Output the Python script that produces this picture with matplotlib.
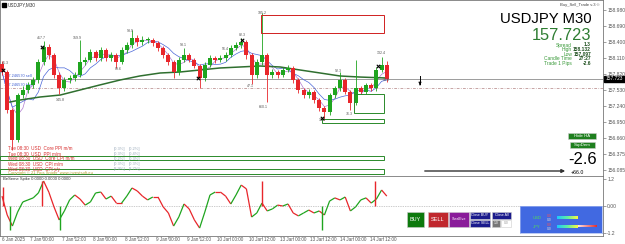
import numpy as np
import pandas as pd
import matplotlib
matplotlib.use("Agg")
import matplotlib.pyplot as plt
from matplotlib.patches import Rectangle
from matplotlib.collections import LineCollection
from matplotlib.colors import LinearSegmentedColormap

plt.rcParams['font.family'] = ['Liberation Sans', 'DejaVu Sans']

W, H = 625, 244

# USDJPY M30, one candle per 2 hours, 6 Jan -> 14 Jan 2025
first_open = 158.000
closes = [157.856, 157.168, 156.624, 157.439, 157.530, 157.621, 157.711, 158.038, 158.309, 158.164,
          157.802, 157.566, 157.711, 157.748, 157.802, 158.038, 158.074, 158.219, 158.110, 158.255,
          158.110, 158.164, 158.038, 158.255, 158.346, 158.473, 158.400, 158.436, 158.436, 158.382,
          158.291, 158.164, 158.038, 157.856, 158.074, 158.164, 158.074, 157.965, 157.748, 157.983,
          158.110, 158.074, 158.110, 158.164, 158.291, 158.346, 158.400, 158.164, 157.802, 158.038,
          158.164, 157.802, 157.856, 157.802, 157.893, 157.929, 157.711, 157.530, 157.439, 157.494,
          157.349, 157.205, 157.131, 157.439, 157.566, 157.711, 157.494, 157.294, 157.566, 157.494,
          157.621, 157.566, 157.893, 157.983, 157.723]
highs = [158.06, 157.90, 157.20, 157.48, 157.60, 157.68, 157.77, 158.10, 158.42, 158.36,
         158.20, 157.85, 157.77, 157.80, 157.86, 158.44, 158.13, 158.27, 158.25, 158.31,
         158.29, 158.22, 158.20, 158.31, 158.40, 158.62, 158.52, 158.50, 158.49, 158.47,
         158.42, 158.33, 158.20, 158.07, 158.12, 158.30, 158.20, 158.11, 158.00, 158.04,
         158.16, 158.15, 158.16, 158.22, 158.34, 158.40, 158.47, 158.43, 158.20, 158.09,
         158.92, 158.20, 157.91, 157.90, 157.94, 157.98, 157.96, 157.75, 157.57, 157.54,
         157.53, 157.39, 157.24, 157.47, 157.61, 157.85, 157.75, 157.53, 158.07, 157.60,
         157.66, 157.66, 157.95, 158.13, 158.05]
lows = [157.80, 157.12, 156.45, 156.58, 157.39, 157.48, 157.57, 157.66, 157.99, 158.10,
        157.75, 157.46, 157.52, 157.66, 157.70, 157.76, 157.99, 158.03, 158.06, 158.06,
        158.06, 158.06, 157.92, 158.00, 158.20, 158.30, 158.33, 158.35, 158.38, 158.33,
        158.24, 158.11, 157.99, 157.75, 157.81, 158.03, 158.03, 157.92, 157.56, 157.70,
        157.94, 158.02, 158.03, 158.06, 158.12, 158.25, 158.30, 158.10, 157.63, 157.75,
        157.99, 157.31, 157.75, 157.75, 157.76, 157.85, 157.66, 157.48, 157.39, 157.39,
        157.30, 157.15, 156.98, 157.08, 157.39, 157.52, 157.45, 157.17, 157.25, 157.45,
        157.45, 157.52, 157.52, 157.85, 157.68]

# slow moving average
ma_slow_idx = [1.5, 3.5, 7.3, 11.2, 15.0, 18.8, 22.7, 26.5, 30.4, 34.2, 38.1, 41.9, 45.8, 49.6,
               53.5, 57.3, 61.2, 65.0, 68.8, 73.7]
ma_slow = [157.312, 157.349, 157.403, 157.439, 157.530, 157.621, 157.711, 157.784, 157.838, 157.856,
           157.893, 157.929, 157.947, 157.965, 157.947, 157.893, 157.838, 157.784, 157.765, 157.748]

# BeSeme Spike oscillator
osc = [0.44, -0.40, -0.89, -0.27, 0.18, 0.27, 0.36, 0.58, 1.11, 0.62,
       -0.04, -0.62, -0.22, 0.27, 0.49, 0.31, 0.04, 0.18, 0.58, 0.62,
       0.31, 0.44, 0.13, 0.13, 0.44, 0.80, 0.67, 0.44, 0.27, 0.40,
       0.40, -0.04, -0.31, -0.89, -0.49, 0.09, -0.13, -0.62, -0.98, -0.27,
       0.49, 0.62, 0.62, 0.44, 0.09, 0.49, 0.93, 0.76, -0.49, -0.31,
       0.13, -0.22, -0.13, 0.04, 0.00, 0.09, -0.31, -0.44, -0.31, -0.18,
       -0.31, -0.22, -0.40, 0.22, 0.36, 0.27, 0.40, -0.22, -0.04, 0.27,
       0.36, 0.13, 0.31, 0.71, 0.44]
spike_up_idx = [0.1, 7.7, 50.0, 71.8]
spike_up = [0.84, 1.11, 1.11, 1.11]
spike_dn_idx = [1.5, 11.2, 61.5]
spike_dn = [-1.07, -1.07, -1.07]

price_ticks = [158.980, 158.690, 158.400, 158.110, 157.820, 157.530, 157.240, 156.950, 156.660, 156.375, 156.085]
time_labels = ['6 Jan 2025', '7 Jan 00:00', '7 Jan 12:00', '8 Jan 00:00', '8 Jan 12:00', '9 Jan 00:00',
               '9 Jan 12:00', '10 Jan 00:00', '10 Jan 12:00', '13 Jan 00:00', '13 Jan 12:00',
               '14 Jan 00:00', '14 Jan 12:00']
time_pos = [1.5, 7.7, 13.85, 19.8, 26.0, 31.9, 37.9, 43.85, 50.0, 56.0, 61.7, 67.5, 73.3]

swing_idx = [0.6, 7.5, 14.4, 11.2, 22.3, 24.6, 34.8, 42.9, 46.3, 47.7, 50.0, 50.2, 64.6, 66.7, 61.5, 72.9, 74.0]
swing_px = [158.019, 158.472, 158.472, 157.349, 157.911, 158.599, 158.346, 158.273, 158.527, 157.602,
            158.926, 157.222, 157.874, 157.095, 156.986, 158.200, 157.711]
swing_txt = ['41.3', '417.7', '159.9', '145.8', '89.6', '93.9', '93.1', '56.4', '82.3', '47.1',
             '185.2', '660.1', '92.3', '76.3', '12.8', '132.4', '38.8']
mark_idx = [0.2, 7.7, 37.7, 46.2, 61.5, 72.3]
mark_px = [157.893, 158.309, 157.748, 158.436, 157.02, 157.965]

last_price = 157.723
sell_level = 157.566

news = ['Tue 08:30  USD  Core PPI m/m', 'Tue 08:30  USD  PPI m/m', 'Wed 08:30  USD  Core CPI m/m',
        'Wed 08:30  USD  CPI m/m', 'Wed 08:30  USD  CPI y/y']
news_fc = ['0.3%', '0.3%', '0.2%', '0.3%', '2.9%']
news_prev = ['0.2%', '0.4%', '0.3%', '0.3%', '2.7%']

GREEN = '#1fa51f'
RED = '#e8262b'


def fx(px):
    return px / W


def fy(py):
    return 1 - py / H


def idx_x(px):
    return (px - 2) / 5.2


fig = plt.figure(figsize=(W / 100, H / 100), dpi=100)
fig.patch.set_facecolor('white')

ax = fig.add_axes([0, fy(176), fx(603), 176 / H])
ax2 = fig.add_axes([0, fy(236), fx(603), 60 / H])

xlo, xhi = idx_x(0), idx_x(603)
for a in (ax, ax2):
    a.set_xlim(xlo, xhi)
    a.set_facecolor('white')
    for s in a.spines.values():
        s.set_color('#777777')
        s.set_linewidth(0.6)
    a.tick_params(axis='x', length=0, labelbottom=False)
    a.yaxis.tick_right()
    a.tick_params(axis='y', length=2, width=0.5, colors='#777777', labelsize=3.6, pad=1)
ax.set_ylim(159.16125 - 0.018125 * 176, 159.16125)
ax.set_yticks(price_ticks)
ax.set_yticklabels([f'{p:.3f}' for p in price_ticks], color='#555555')

# candles
n = len(closes)
xs = np.arange(n)
opens = [first_open] + closes[:-1]
cols = [GREEN if c >= o else RED for o, c in zip(opens, closes)]
ax.vlines(xs, lows, highs, colors=cols, lw=0.6, zorder=3)
bottoms = [min(o, c) for o, c in zip(opens, closes)]
heights = [max(abs(c - o), 0.01) for o, c in zip(opens, closes)]
ax.bar(xs, heights, bottom=bottoms, width=0.75, color=cols, lw=0, zorder=4)

# moving averages
cs = pd.Series(closes)
ax.plot(xs, cs.rolling(3, min_periods=1).mean(), color='#b07ad0', lw=0.5, zorder=2)
ax.plot(xs, cs.rolling(6, min_periods=1).mean(), color='#4a66d8', lw=0.5, zorder=2)
ax.plot(ma_slow_idx, ma_slow, color='#2f6f2f', lw=1.1, zorder=2)

# levels
ax.axhline(last_price, color='#8c8c8c', lw=0.6, zorder=1)
ax.axhline(sell_level, color='#b08080', lw=0.5, ls=(0, (4, 2, 1, 2)), zorder=1)
ax.text(idx_x(4), last_price + 0.02, '157.246570 sell', fontsize=2.8, color='#3b5bd0', va='bottom')
ax.text(idx_x(4), sell_level + 0.02, '157.246570 buy', fontsize=2.8, color='#3b5bd0', va='bottom')

# zones
ax.add_patch(Rectangle((idx_x(261), 158.563), idx_x(384) - idx_x(261), 158.890 - 158.563,
                       fill=False, ec='#d02020', lw=0.7, zorder=5))
ax.add_patch(Rectangle((idx_x(354), 157.113), idx_x(384) - idx_x(354), 157.457 - 157.113,
                       fill=False, ec='#2a8a2a', lw=0.7, zorder=5))
ax.add_patch(Rectangle((idx_x(322), 156.932), idx_x(384) - idx_x(322), 157.004 - 156.932,
                       fill=False, ec='#2a8a2a', lw=0.7, zorder=5))
for lo, hi in [(156.261, 156.334), (156.007, 156.098)]:
    ax.add_patch(Rectangle((xlo, lo), idx_x(384) - xlo, hi - lo,
                           fill=False, ec='#2a8a2a', lw=0.7, zorder=5))

# swing labels and markers
for i, p, t in zip(swing_idx, swing_px, swing_txt):
    ax.text(i, p, t, fontsize=2.6, color='#555555', ha='center', va='center', zorder=6)
ax.scatter(mark_idx, mark_px, marker='x', s=6, color='black', lw=0.8, zorder=7)

# oscillator
ax2.set_ylim(-1.333, 1.333)
ax2.set_yticks([1.2, 0.0, -1.2])
ax2.set_yticklabels(['1.2', '0.00', '-1.2'], color='#555555')
ax2.axhline(0, color='#999999', lw=0.5, ls=(0, (1, 1.5)))
pts = np.column_stack([xs, osc])
segs = np.stack([pts[:-1], pts[1:]], axis=1)
seg_cols = [GREEN if b > a else RED for a, b in zip(osc[:-1], osc[1:])]
ax2.add_collection(LineCollection(segs, colors=seg_cols, lw=0.9))
ax2.vlines(spike_up_idx, 0, spike_up, colors=RED, lw=1.0)
ax2.vlines(spike_dn_idx, spike_dn, 0, colors=GREEN, lw=1.0)
ax2.text(idx_x(3), 1.2, 'BeSeme Spike 0.0000 0.0000 0.0000', fontsize=3, color='#333333', va='center')

for k, (p, t) in enumerate(zip(time_pos, time_labels)):
    if k == 0:
        ax2.text(idx_x(2), -1.36, t, fontsize=3.3, color='#555555', ha='left', va='top', clip_on=False)
    else:
        ax2.text(p, -1.36, t, fontsize=3.3, color='#555555', ha='center', va='top', clip_on=False)
for p in time_pos[1:]:
    ax2.plot([p, p], [-1.333, -1.42], color='#777777', lw=0.4, clip_on=False)

# header texts
fig.patches.append(Rectangle((fx(2), fy(7)), fx(4), 4 / H, color='black', transform=fig.transFigure))
fig.text(fx(8), fy(5), 'USDJPY,M30', fontsize=3.3, color='#333333', va='center')
fig.text(fx(600), fy(5), 'Buy_Sell_Trade v.3 \u00a9', fontsize=3, color='#444444', va='center', ha='right')
fig.text(fx(592), fy(19), 'USDJPY M30', fontsize=10.7, color='black', ha='right', va='center')
fig.text(fx(591), fy(36), '157.723', fontsize=11.8, color='#2e7d32', ha='right', va='center')
info_lab = ['Spread', 'High', 'Low', 'Candle Time', 'Trade 1 Pips']
info_val = ['1.3', '158.132', '157.097', '27:27', '-2.6']
for k, (lab, val) in enumerate(zip(info_lab, info_val)):
    yy = 45 + 4.6 * k
    fig.text(fx(572), fy(yy), lab, fontsize=3.5, color='#3a9a3a', ha='right', va='center')
    fig.text(fx(591), fy(yy), val, fontsize=3.5, color='#1b4d1b', ha='right', va='center',
             fontweight='bold')

# price tag on axis
fig.patches.append(Rectangle((fx(604), fy(82)), fx(21), 6 / H, color='black', transform=fig.transFigure))
fig.text(fx(614), fy(79), '157.723', fontsize=3.4, color='white', ha='center', va='center')

fig.add_artist(plt.Line2D([fx(420), fx(420)], [fy(76), fy(84)], color='black', lw=0.7))
ax.annotate('', xy=(fx(420), fy(88)), xytext=(fx(420), fy(82)), xycoords='figure fraction',
            arrowprops=dict(arrowstyle='-|>', color='black', lw=0.6, mutation_scale=4))

# news block
for k, t in enumerate(news):
    yy = 149 + 5 * k
    fig.text(fx(8), fy(yy), t, fontsize=3.3, color='#d83030', va='center')
    fig.text(fx(114), fy(yy), '[' + news_fc[k] + ']', fontsize=3.0, color='#9aaabb', va='center')
    fig.text(fx(129), fy(yy), '[' + news_prev[k] + ']', fontsize=3.0, color='#9aaabb', va='center')
fig.text(fx(8), fy(173), 'Copyright \u00a9 21 Pips Sniper  www.investsoft.eu', fontsize=3.0,
         color='#b8a030', va='center')

# right side controls
def button(x0, y0, x1, y1, fc, text, tc='white', fs=3.3):
    fig.patches.append(Rectangle((fx(x0), fy(y1)), fx(x1 - x0), (y1 - y0) / H, fc=fc, ec='#cccccc',
                                 lw=0.4, transform=fig.transFigure))
    fig.text(fx((x0 + x1) / 2), fy((y0 + y1) / 2), text, fontsize=fs, color=tc, ha='center', va='center')

button(568, 133, 596, 139, '#1e7f1e', 'Hide HA', fs=3.2)
button(570, 142, 595, 148, '#1e7f1e', 'SupDem', fs=3.2)
fig.text(fx(597), fy(159), '-2.6', fontsize=12, color='black', ha='right', va='center')
ax.annotate('', xy=(fx(568), fy(171)), xytext=(fx(422), fy(171)), xycoords='figure fraction',
            arrowprops=dict(arrowstyle='-|>', color='#333333', lw=1.0, mutation_scale=5))
fig.text(fx(571), fy(172), '+66.0', fontsize=3.8, color='black', va='center')

button(407, 212, 424, 227, '#0d7a0d', 'BUY', fs=4)
button(428, 212, 448, 227, '#c0272d', 'SELL', fs=4)
button(449, 212, 469, 227, '#8a1c9a', 'StealEve', fs=2.6)
button(470, 212, 490, 219, '#1a1a8c', 'Close BUY', fs=2.5)
button(470, 220, 490, 227, '#1a1a8c', 'Close SELL', fs=2.5)
button(492, 212, 511, 219, '#1a1a8c', 'Close All', fs=2.5)
button(492, 220, 500, 227, '#777777', '1.0', fs=2.4)
button(501, 220, 511, 227, 'white', '0.0', tc='#999999', fs=2.4)

pan = fig.add_axes([fx(520), fy(233), fx(82), 27 / H])
pan.set_xlim(0, 82)
pan.set_ylim(27, 0)
pan.set_facecolor('#4169e1')
for s in pan.spines.values():
    s.set_color('#9fb3ee')
    s.set_linewidth(0.5)
pan.set_xticks([])
pan.set_yticks([])
grad = LinearSegmentedColormap.from_list('g', ['#1ec8ff', '#60f0a0', '#f8f840'])
pan.imshow(np.linspace(0, 1, 50)[None, :], cmap=grad, aspect='auto', extent=(37, 58, 13, 10))
pan.imshow(np.linspace(0, 1, 50)[None, :], cmap=grad, aspect='auto', extent=(37, 58, 22, 19))
tail = LinearSegmentedColormap.from_list('t', ['#ffe0e0', '#e03030'])
pan.imshow(np.linspace(0, 1, 30)[None, :], cmap=tail, aspect='auto', extent=(58, 77, 21.5, 19.5))
pan.text(13, 12, 'USD', fontsize=3, color='#50e050', va='center')
pan.text(13, 21, 'JPY', fontsize=3, color='#50e050', va='center')
pan.text(27, 10, '0.0', fontsize=2.4, color='#ff5050', va='center')
pan.text(27, 19, '0.0', fontsize=2.4, color='#ff5050', va='center')
pan.text(27, 14, '0.0', fontsize=2.4, color='#e0e0e0', va='center')
pan.text(27, 23, '0.0', fontsize=2.4, color='#e0e0e0', va='center')

fig.savefig('out.png', dpi=100, facecolor='white')
